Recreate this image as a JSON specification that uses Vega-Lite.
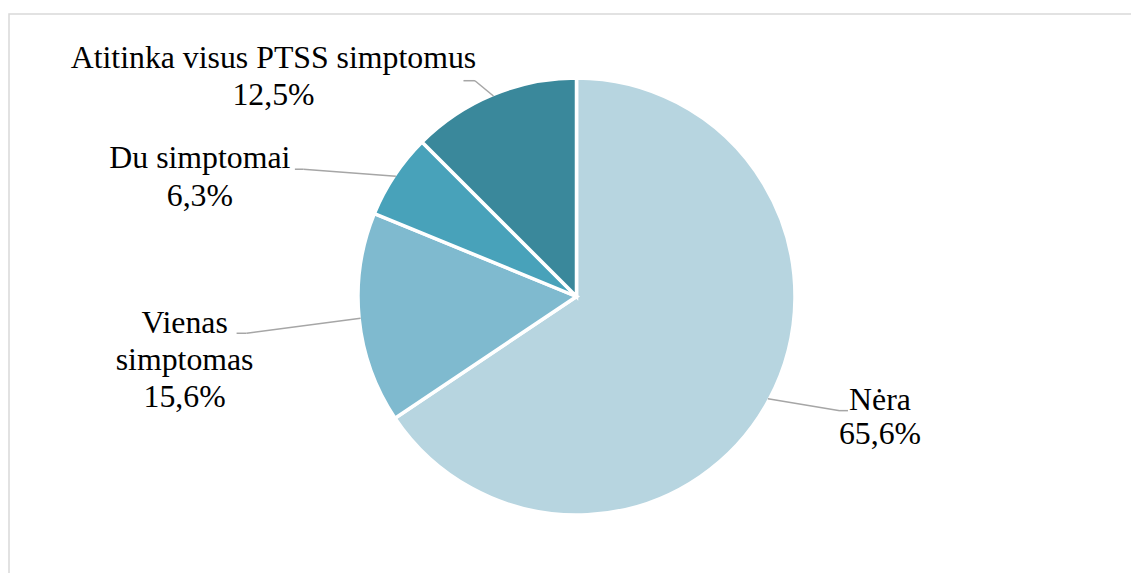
{
  "$schema": "https://vega.github.io/schema/vega-lite/v6.json",
  "width": 1131,
  "height": 573,
  "autosize": {"type": "fit", "contains": "padding"},
  "padding": {"left": 9, "top": 14, "right": -5, "bottom": -5},
  "background": "white",
  "config": {
    "view": {"stroke": "#d9d9d9", "strokeWidth": 1.5},
    "text": {"font": "'Liberation Serif', 'Times New Roman', Times, serif"}
  },
  "data": {
    "values": [
      {"category": "Nėra", "value": 65.6},
      {"category": "Vienas simptomas", "value": 15.6},
      {"category": "Du simptomai", "value": 6.3},
      {"category": "Atitinka visus PTSS simptomus", "value": 12.5}
    ]
  },
  "transform": [
    {"window": [{"op": "sum", "field": "value", "as": "cum"}], "frame": [null, 0]},
    {"joinaggregate": [{"op": "sum", "field": "value", "as": "total"}]},
    {"calculate": "(datum.cum - datum.value) / datum.total * 100", "as": "start"},
    {"calculate": "datum.cum / datum.total * 100", "as": "stop"},
    {"calculate": "(datum.start + datum.stop) / 200 * 2 * PI", "as": "mid"},
    {"calculate": "sin(datum.mid)", "as": "ex"},
    {"calculate": "cos(datum.mid)", "as": "ey"},
    {"calculate": "replace(format(datum.value, '.1f'), '.', ',') + '%'", "as": "pct"}
  ],
  "encoding": {
    "x": {"field": "ex", "type": "quantitative", "scale": {"domain": [-2.61521, 2.57834], "nice": false, "zero": false}, "axis": null},
    "y": {"field": "ey", "type": "quantitative", "scale": {"domain": [-1.29724, 1.30184], "nice": false, "zero": false}, "axis": null}
  },
  "layer": [
    {
      "mark": {"type": "arc", "outerRadius": 218.5, "stroke": "white", "strokeWidth": 3.5},
      "encoding": {
        "x": {"datum": 0, "type": "quantitative"},
        "y": {"datum": 0, "type": "quantitative"},
        "theta": {"field": "start", "type": "quantitative", "scale": {"domain": [0, 100]}},
        "theta2": {"field": "stop"},
        "color": {
          "field": "category",
          "type": "nominal",
          "scale": {
            "domain": ["Nėra", "Vienas simptomas", "Du simptomai", "Atitinka visus PTSS simptomus"],
            "range": ["#b7d5e0", "#7fbacf", "#48a2ba", "#3a889b"]
          },
          "legend": null
        }
      }
    },
    {
      "transform": [
        {"filter": "datum.category === 'Nėra'"},
        {"calculate": "[datum.category, datum.pct]", "as": "lines"}
      ],
      "layer": [
        {"mark": {"type": "rule", "color": "#a6a6a6", "strokeWidth": 1.5, "x2Offset": 72, "y2Offset": 12}, "encoding": {"x2": {"field": "ex"}, "y2": {"field": "ey"}}},
        {"mark": {"type": "rule", "color": "#a6a6a6", "strokeWidth": 1.5, "xOffset": 72, "yOffset": 12, "x2Offset": 80, "y2Offset": 12}, "encoding": {"x2": {"field": "ex"}, "y2": {"field": "ey"}}},
        {"mark": {"type": "text", "font": "'Liberation Serif', 'Times New Roman', Times, serif", "fontSize": 31.8, "lineHeight": 33.5, "align": "center", "baseline": "alphabetic", "color": "black", "dx": 112, "dy": 11.5}, "encoding": {"text": {"field": "lines"}}}
      ]
    },
    {
      "transform": [
        {"filter": "datum.category === 'Vienas simptomas'"},
        {"calculate": "[split(datum.category, ' ')[0], split(datum.category, ' ')[1], datum.pct]", "as": "lines"}
      ],
      "layer": [
        {"mark": {"type": "rule", "color": "#a6a6a6", "strokeWidth": 1.5, "x2Offset": -114, "y2Offset": 15}, "encoding": {"x2": {"field": "ex"}, "y2": {"field": "ey"}}},
        {"mark": {"type": "rule", "color": "#a6a6a6", "strokeWidth": 1.5, "xOffset": -114, "yOffset": 15, "x2Offset": -124, "y2Offset": 15}, "encoding": {"x2": {"field": "ex"}, "y2": {"field": "ey"}}},
        {"mark": {"type": "text", "font": "'Liberation Serif', 'Times New Roman', Times, serif", "fontSize": 31.8, "lineHeight": 36.7, "align": "center", "baseline": "alphabetic", "color": "black", "dx": -176, "dy": 15}, "encoding": {"text": {"field": "lines"}}}
      ]
    },
    {
      "transform": [
        {"filter": "datum.category === 'Du simptomai'"},
        {"calculate": "[datum.category, datum.pct]", "as": "lines"}
      ],
      "layer": [
        {"mark": {"type": "rule", "color": "#a6a6a6", "strokeWidth": 1.5, "x2Offset": -92.6, "y2Offset": -7}, "encoding": {"x2": {"field": "ex"}, "y2": {"field": "ey"}}},
        {"mark": {"type": "rule", "color": "#a6a6a6", "strokeWidth": 1.5, "xOffset": -92.6, "yOffset": -7, "x2Offset": -101, "y2Offset": -7}, "encoding": {"x2": {"field": "ex"}, "y2": {"field": "ey"}}},
        {"mark": {"type": "text", "font": "'Liberation Serif', 'Times New Roman', Times, serif", "fontSize": 31.8, "lineHeight": 37.4, "align": "center", "baseline": "alphabetic", "color": "black", "dx": -196, "dy": -8}, "encoding": {"text": {"field": "lines"}}}
      ]
    },
    {
      "transform": [
        {"filter": "datum.category === 'Atitinka visus PTSS simptomus'"},
        {"calculate": "[datum.category, datum.pct]", "as": "lines"}
      ],
      "layer": [
        {"mark": {"type": "rule", "color": "#a6a6a6", "strokeWidth": 1.5, "x2Offset": -18.5, "y2Offset": -15.3}, "encoding": {"x2": {"field": "ex"}, "y2": {"field": "ey"}}},
        {"mark": {"type": "rule", "color": "#a6a6a6", "strokeWidth": 1.5, "xOffset": -18.5, "yOffset": -15.3, "x2Offset": -30, "y2Offset": -15.3}, "encoding": {"x2": {"field": "ex"}, "y2": {"field": "ey"}}},
        {"mark": {"type": "text", "font": "'Liberation Serif', 'Times New Roman', Times, serif", "fontSize": 31.8, "lineHeight": 36.7, "align": "center", "baseline": "alphabetic", "color": "black", "dx": -220, "dy": -28}, "encoding": {"text": {"field": "lines"}}}
      ]
    }
  ]
}
